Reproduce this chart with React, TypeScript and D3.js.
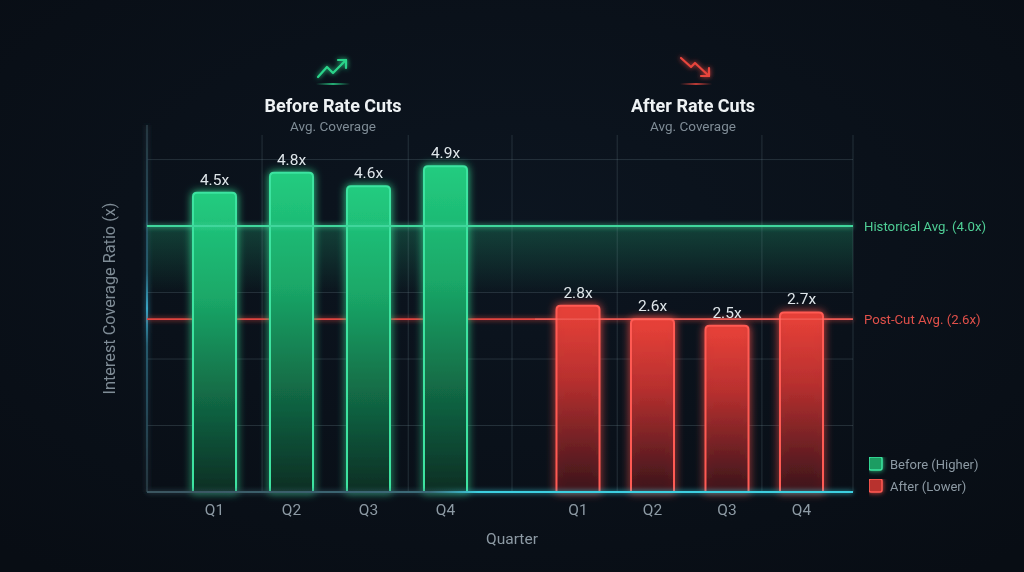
import React from "react";
import * as d3 from "d3";

const quarters = ["Q1", "Q2", "Q3", "Q4"];
const beforeValues = [4.5, 4.8, 4.6, 4.9];
const afterValues = [2.8, 2.6, 2.5, 2.7];
const historicalAvg = 4.0;
const postCutAvg = 2.6;
const yTicks = [0, 1, 2, 3, 4, 5];
const gridXFractions = [0, 0.163, 0.37, 0.517, 0.666, 0.871, 1];
const legendItems = ["Before (Higher)", "After (Lower)"];

const W = 1024;
const H = 572;
const FONT = "Roboto, 'Noto Sans', sans-serif";

export default function App() {
  const plotL = 147;
  const plotR = 853;
  const plotTop = 125;
  const base = 492;

  const y = d3.scaleLinear().domain([0, 5.52]).range([base, plotTop]);
  const xBefore = d3.scalePoint<string>().domain(quarters).range([214.5, 445.5]);
  const xAfter = d3.scalePoint<string>().domain(quarters).range([578, 801.5]);
  const xGrid = d3.scaleLinear().domain([0, 1]).range([plotL, plotR]);
  const barW = 43;

  const barPath = (cx: number, v: number) => {
    const x0 = cx - barW / 2;
    const x1 = cx + barW / 2;
    const top = y(v);
    const r = 4;
    const p = d3.path();
    p.moveTo(x0, base);
    p.lineTo(x0, top + r);
    p.quadraticCurveTo(x0, top, x0 + r, top);
    p.lineTo(x1 - r, top);
    p.quadraticCurveTo(x1, top, x1, top + r);
    p.lineTo(x1, base);
    p.closePath();
    return p.toString();
  };

  const gridColor = "rgba(130,160,170,0.22)";

  return (
    <div style={{ position: "fixed", left: 0, top: 0, width: W, height: H }}>
      <svg width={W} height={H} style={{ display: "block" }} fontFamily={FONT}>
        <defs>
          <radialGradient id="bg" cx="50%" cy="40%" r="75%">
            <stop offset="0%" stopColor="#0c1520" />
            <stop offset="100%" stopColor="#080d14" />
          </radialGradient>
          <linearGradient id="gBar" x1="0" y1="0" x2="0" y2="1">
            <stop offset="0%" stopColor="#22cc80" />
            <stop offset="35%" stopColor="#1aa868" />
            <stop offset="100%" stopColor="#0a2e24" />
          </linearGradient>
          <linearGradient id="rBar" x1="0" y1="0" x2="0" y2="1">
            <stop offset="0%" stopColor="#ec4239" />
            <stop offset="40%" stopColor="#b9302f" />
            <stop offset="100%" stopColor="#3a141b" />
          </linearGradient>
          <linearGradient id="histBand" x1="0" y1="0" x2="0" y2="1">
            <stop offset="0%" stopColor="#1c7a5a" stopOpacity="0.45" />
            <stop offset="100%" stopColor="#1c7a5a" stopOpacity="0.02" />
          </linearGradient>
          <linearGradient id="baseLine" gradientUnits="userSpaceOnUse" x1={plotL} y1="0" x2={plotR} y2="0">
            <stop offset="0%" stopColor="#3a5560" />
            <stop offset="40%" stopColor="#3a6a78" />
            <stop offset="47%" stopColor="#3ccfe0" />
            <stop offset="100%" stopColor="#3ccfe0" />
          </linearGradient>
          <linearGradient id="leftAxis" gradientUnits="userSpaceOnUse" x1="0" y1={plotTop} x2="0" y2={base}>
            <stop offset="0%" stopColor="#2a3e48" />
            <stop offset="40%" stopColor="#2c6a80" />
            <stop offset="50%" stopColor="#44c8ee" />
            <stop offset="60%" stopColor="#2c6a80" />
            <stop offset="100%" stopColor="#2a3e48" />
          </linearGradient>
          <linearGradient id="gUnder" x1="0" y1="0" x2="1" y2="0">
            <stop offset="0%" stopColor="#2bd48a" stopOpacity="0" />
            <stop offset="50%" stopColor="#2bd48a" stopOpacity="0.8" />
            <stop offset="100%" stopColor="#2bd48a" stopOpacity="0" />
          </linearGradient>
          <linearGradient id="rUnder" x1="0" y1="0" x2="1" y2="0">
            <stop offset="0%" stopColor="#e8453c" stopOpacity="0" />
            <stop offset="50%" stopColor="#e8453c" stopOpacity="0.8" />
            <stop offset="100%" stopColor="#e8453c" stopOpacity="0" />
          </linearGradient>
          <filter id="glow" filterUnits="userSpaceOnUse" x={0} y={0} width={W} height={H}>
            <feGaussianBlur stdDeviation="4" result="b" />
            <feMerge>
              <feMergeNode in="b" />
              <feMergeNode in="SourceGraphic" />
            </feMerge>
          </filter>
          <filter id="softGlow" filterUnits="userSpaceOnUse" x={0} y={0} width={W} height={H}>
            <feGaussianBlur stdDeviation="2.5" result="b" />
            <feMerge>
              <feMergeNode in="b" />
              <feMergeNode in="SourceGraphic" />
            </feMerge>
          </filter>
        </defs>

        <rect x={0} y={0} width={W} height={H} fill="url(#bg)" />

        {/* Historical band */}
        <rect
          x={plotL}
          y={y(historicalAvg)}
          width={plotR - plotL}
          height={y(3) - y(historicalAvg)}
          fill="url(#histBand)"
        />

        {/* horizontal grid */}
        {yTicks.filter((t) => t > 0).map((t) => (
          <line key={"h" + t} x1={plotL} x2={plotR} y1={y(t)} y2={y(t)} stroke={gridColor} strokeWidth={1} />
        ))}
        {/* vertical grid */}
        {gridXFractions.slice(1).map((f, i) => (
          <line key={"v" + i} x1={xGrid(f)} x2={xGrid(f)} y1={plotTop + 10} y2={base} stroke={gridColor} strokeWidth={1} />
        ))}

        {/* left axis */}
        <line x1={plotL} x2={plotL} y1={plotTop} y2={base} stroke="url(#leftAxis)" strokeWidth={1.5} filter="url(#softGlow)" />

        {/* post-cut line (behind bars) */}
        <line x1={plotL} x2={plotR} y1={y(postCutAvg)} y2={y(postCutAvg)} stroke="#e0453f" strokeWidth={1.8} filter="url(#softGlow)" />

        {/* bars before */}
        {quarters.map((q, i) => (
          <g key={"b" + q} filter="url(#glow)">
            <path d={barPath(xBefore(q)!, beforeValues[i])} fill="url(#gBar)" stroke="#3de3a0" strokeWidth={2} />
          </g>
        ))}
        {/* bars after */}
        {quarters.map((q, i) => (
          <g key={"a" + q} filter="url(#glow)">
            <path d={barPath(xAfter(q)!, afterValues[i])} fill="url(#rBar)" fillOpacity={0.9} stroke="#ff5a52" strokeWidth={2} />
          </g>
        ))}
        {/* faint post-cut line across red bars */}
        <line x1={xAfter.range()[0] - barW} x2={plotR} y1={y(postCutAvg)} y2={y(postCutAvg)} stroke="#ff8a80" strokeOpacity={0.45} strokeWidth={1.2} />

        {/* historical line */}
        <line x1={plotL} x2={plotR} y1={y(historicalAvg)} y2={y(historicalAvg)} stroke="#3fd69c" strokeWidth={2} filter="url(#softGlow)" />
        <text x={864} y={y(historicalAvg)} dy="0.35em" fill="#4fcf96" fontSize={13.2}>
          Historical Avg. (4.0x)
        </text>
        <text x={864} y={y(postCutAvg)} dy="0.35em" fill="#e0504a" fontSize={13.2}>
          Post-Cut Avg. (2.6x)
        </text>

        {/* baseline */}
        <line x1={plotL} x2={plotR} y1={base} y2={base} stroke="url(#baseLine)" strokeWidth={2} filter="url(#softGlow)" />

        {/* value labels */}
        {quarters.map((q, i) => (
          <text key={"lb" + q} x={xBefore(q)!} y={y(beforeValues[i]) - 8} textAnchor="middle" fill="#dfe6ea" fontSize={15.5}>
            {beforeValues[i].toFixed(1)}x
          </text>
        ))}
        {quarters.map((q, i) => (
          <text key={"la" + q} x={xAfter(q)!} y={y(afterValues[i]) - 8} textAnchor="middle" fill="#dfe6ea" fontSize={15.5}>
            {afterValues[i].toFixed(1)}x
          </text>
        ))}

        {/* x tick labels */}
        {quarters.map((q) => (
          <text key={"tb" + q} x={xBefore(q)!} y={515} textAnchor="middle" fill="#8d9aa4" fontSize={15.5}>
            {q}
          </text>
        ))}
        {quarters.map((q) => (
          <text key={"ta" + q} x={xAfter(q)!} y={515} textAnchor="middle" fill="#8d9aa4" fontSize={15.5}>
            {q}
          </text>
        ))}

        {/* axis titles */}
        <text x={512} y={544} textAnchor="middle" fill="#8d9aa4" fontSize={15.5}>
          Quarter
        </text>
        <text
          transform={`translate(115, ${(plotTop + base) / 2 - 10}) rotate(-90)`}
          textAnchor="middle"
          fill="#7f8c96"
          fontSize={16.3}
        >
          Interest Coverage Ratio (x)
        </text>

        {/* section headers */}
        <g>
          <g filter="url(#softGlow)" stroke="#2bd48a" strokeWidth={2.2} fill="none" strokeLinecap="round" strokeLinejoin="round">
            <polyline points="318,77 327,67 333,73 346,60" />
            <polyline points="338,60 346,60 346,68" />
          </g>
          <rect x={316} y={83} width={34} height={2} fill="url(#gUnder)" />
          <text x={333} y={112} textAnchor="middle" fill="#eef2f4" fontSize={18} fontWeight={700}>
            Before Rate Cuts
          </text>
          <text x={333} y={131} textAnchor="middle" fill="#7f8c96" fontSize={13.5}>
            Avg. Coverage
          </text>
        </g>
        <g>
          <g filter="url(#softGlow)" stroke="#e8453c" strokeWidth={2.2} fill="none" strokeLinecap="round" strokeLinejoin="round">
            <polyline points="681,58 691,67 695,63 709,76" />
            <polyline points="709,68 709,76 701,76" />
          </g>
          <rect x={680} y={83} width={32} height={2} fill="url(#rUnder)" />
          <text x={693} y={112} textAnchor="middle" fill="#eef2f4" fontSize={18} fontWeight={700}>
            After Rate Cuts
          </text>
          <text x={693} y={131} textAnchor="middle" fill="#7f8c96" fontSize={13.5}>
            Avg. Coverage
          </text>
        </g>

        {/* legend */}
        {legendItems.map((l, i) => (
          <g key={l} transform={`translate(869, ${457 + i * 22})`}>
            <rect
              width={13}
              height={13}
              rx={2}
              fill={i === 0 ? "#1a9c62" : "#b8312f"}
              stroke={i === 0 ? "#3de3a0" : "#ff5a52"}
              strokeWidth={1.5}
              filter="url(#softGlow)"
            />
            <text x={21} y={7} dy="0.35em" fill="#8d9aa4" fontSize={13}>
              {l}
            </text>
          </g>
        ))}
      </svg>
    </div>
  );
}
